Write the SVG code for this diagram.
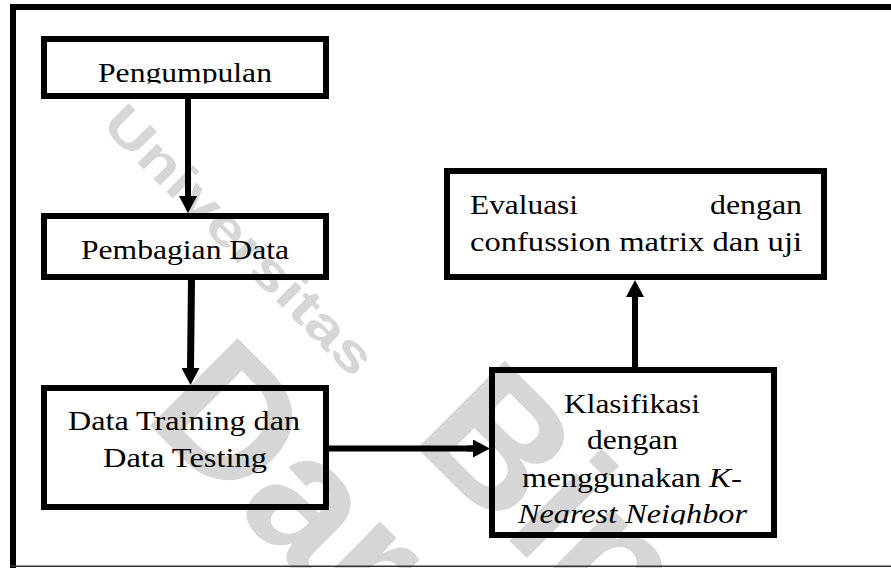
<svg xmlns="http://www.w3.org/2000/svg" width="891" height="568" viewBox="0 0 891 568">
<style>
.box{fill:none;stroke:#000;stroke-width:6}
.t{font-family:"Times New Roman","Liberation Serif",Tinos,Times,serif;font-size:28px;fill:#000}
.i{font-style:italic}
.con{stroke:#000;stroke-width:6;fill:none}
.wm{font-family:"Liberation Sans",Arial,sans-serif;font-weight:bold;fill:#d6d6d6}
</style>
<defs>
<marker id="ah" markerUnits="userSpaceOnUse" markerWidth="18" markerHeight="18" refX="0" refY="9" orient="auto">
<path d="M0,0 L17,9 L0,18 z" fill="#000"/>
</marker>
<clipPath id="c1"><rect x="40" y="36" width="300" height="47.5"/></clipPath>
<clipPath id="c5"><rect x="489" y="367" width="290" height="157.5"/></clipPath>
</defs>
<rect width="891" height="568" fill="#fff"/>
<g id="watermark" transform="rotate(45)">
<text class="wm" x="160" y="18" font-size="52" textLength="358" lengthAdjust="spacingAndGlyphs">Universitas</text>
<text class="wm" x="600" y="22" font-size="180">Bina</text>
<text class="wm" x="395" y="195" font-size="180">Darma</text>
</g>
<g id="frame">
<rect x="10" y="4" width="881" height="6" fill="#000"/>
<rect x="10" y="4" width="6" height="564" fill="#000"/>
<rect x="10" y="565.5" width="881" height="1.5" fill="#333"/>
</g>
<g id="connectors">
<line class="con" x1="188" y1="99" x2="188" y2="196"/>
<line class="con" x1="188" y1="190" x2="188" y2="196" marker-end="url(#ah)"/>
<line class="con" x1="191.5" y1="280" x2="190.5" y2="368" style="stroke-width:7"/>
<line class="con" x1="190.5" y1="362" x2="190.5" y2="368" marker-end="url(#ah)"/>
<line class="con" x1="329" y1="448.5" x2="473" y2="448.5"/>
<line class="con" x1="467" y1="448.5" x2="473" y2="448.5" marker-end="url(#ah)"/>
<line class="con" x1="635" y1="367" x2="635" y2="297"/>
<line class="con" x1="635" y1="303" x2="635" y2="297" marker-end="url(#ah)"/>
</g>
<g id="n1">
<rect class="box" x="44" y="39" width="282" height="57"/>
<text class="t" x="98" y="82" textLength="174" lengthAdjust="spacingAndGlyphs" clip-path="url(#c1)">Pengumpulan</text>
</g>
<g id="n2">
<rect class="box" x="44" y="216" width="282" height="61"/>
<text class="t" x="81" y="259" textLength="208" lengthAdjust="spacingAndGlyphs">Pembagian Data</text>
</g>
<g id="n3">
<rect class="box" x="44" y="388" width="282" height="119"/>
<text class="t" x="68" y="430" textLength="232" lengthAdjust="spacingAndGlyphs">Data Training dan</text>
<text class="t" x="103" y="467" textLength="164" lengthAdjust="spacingAndGlyphs">Data Testing</text>
</g>
<g id="n4">
<rect class="box" x="447" y="171" width="377" height="106"/>
<text class="t" x="470" y="214" textLength="108" lengthAdjust="spacingAndGlyphs">Evaluasi</text>
<text class="t" x="710" y="214" textLength="92" lengthAdjust="spacingAndGlyphs">dengan</text>
<text class="t" x="470" y="251" textLength="332" lengthAdjust="spacingAndGlyphs">confussion matrix dan uji</text>
</g>
<g id="n5">
<rect class="box" x="492" y="370" width="282" height="165"/>
<text class="t" x="564" y="413" textLength="136" lengthAdjust="spacingAndGlyphs">Klasifikasi</text>
<text class="t" x="587" y="449" textLength="91" lengthAdjust="spacingAndGlyphs">dengan</text>
<text class="t" x="522" y="487" textLength="179" lengthAdjust="spacingAndGlyphs">menggunakan</text>
<text class="t i" x="709" y="487" textLength="33" lengthAdjust="spacingAndGlyphs">K-</text>
<text class="t i" x="518" y="523" textLength="229" lengthAdjust="spacingAndGlyphs" clip-path="url(#c5)">Nearest Neighbor</text>
</g>
</svg>
